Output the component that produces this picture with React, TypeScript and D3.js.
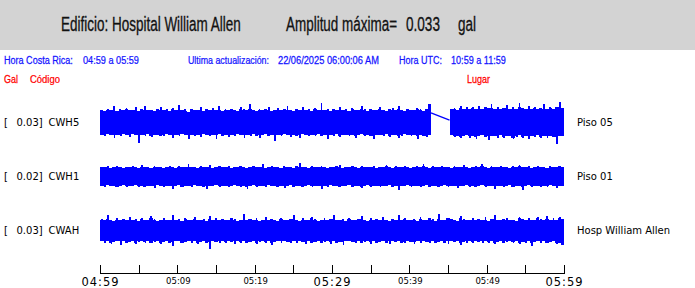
import React, { useLayoutEffect, useRef, useState } from 'react';
import * as d3 from 'd3';

// ---------- data ----------
const STATIONS = ['CWH5', 'CWH1', 'CWAH'];
const PLACES = ['Piso 05', 'Piso 01', 'Hosp William Allen'];
const PEAKS = ['0.03', '0.02', '0.03'];

const TICK_MINUTES = [0, 5, 10, 15, 20, 25, 30, 35, 40, 45, 50, 55, 60];
const LABEL_MINUTES = [0, 10, 20, 30, 40, 50, 60];
const LABEL_TEXTS = ['04:59', '05:09', '05:19', '05:29', '05:39', '05:49', '05:59'];
const LABEL_BIG = [true, false, false, true, false, false, true];

const SAMPLE_MIN = 0.4; // one envelope sample every 24 s

// envelopes in mgal (upper = positive peak, lower = negative peak magnitude); null = no data
const N = null;
const CWH5_UP = [
  21,19,23,20,27,19,22,20,24,21, 20,25,19,22,28,20,21,19,23,26,
  20,22,19,24,21,29,20,22,18,23, 21,20,26,19,22,21,24,20,27,19,
  22,20,23,21,19,25,22,20,30,21, 19,23,20,22,26,19,21,24,20,22,
  28,20,19,23,21,25,20,22,19,24, 21,32,20,22,19,23,21,26,20,22,
  19,24,21,20,27,22,19,23,21,20, 25,21,19,22,24,20,28,21,19,23,
  21,20,24,22,19,23,30,N,N,N, N,N,N,22,24,21,27,23,25,22,
  26,23,28,22,25,24,31,23,26,22, 24,29,23,25,22,33,24,23,27,22,
  25,23,24,30,22,26,23,25,34,24,
];
const CWH5_DOWN = [
  20,22,19,21,26,20,23,19,21,24, 19,21,33,20,22,19,24,21,20,22,
  23,19,21,25,20,22,19,21,27,20, 22,20,24,19,21,23,20,28,19,22,
  21,24,20,22,19,21,26,20,23,19, 22,25,20,19,23,21,30,20,22,19,
  21,24,20,22,26,19,21,23,20,22, 19,23,21,27,20,22,19,24,21,20,
  22,20,25,21,19,23,20,22,28,21, 20,22,19,24,21,20,26,22,19,21,
  23,20,27,21,22,24,21,N,N,N, N,N,N,21,24,22,26,23,21,25,
  22,27,23,21,24,29,22,23,25,21, 26,23,22,28,24,21,25,23,27,22,
  24,21,26,23,25,22,24,35,23,22,
];
const CWH5_GAP_EDGES = [16, 4];

const CWH1_UP = [
  16,15,17,14,16,18,15,14,16,15, 17,15,14,19,15,16,14,17,15,16,
  14,16,18,15,14,17,15,16,21,15, 16,14,17,15,16,19,14,15,17,16,
  15,17,14,16,15,18,16,14,15,17, 16,15,20,14,16,17,15,16,14,18,
  15,16,14,17,22,15,16,14,17,15, 16,18,15,14,16,15,17,19,14,16,
  15,17,16,14,18,15,16,15,17,14, 16,15,19,16,14,17,15,16,18,15,
  14,16,17,15,21,16,14,17,15,16, 18,15,16,14,17,15,16,19,15,14,
  16,17,15,20,16,14,17,15,16,18, 15,16,14,17,15,19,16,15,17,14,
  16,18,15,16,14,17,15,16,18,16,
];
const CWH1_DOWN = [
  15,17,14,16,15,18,16,14,17,15, 16,14,18,15,17,16,15,19,14,16,
  17,15,16,21,15,14,17,16,15,18, 14,16,15,17,20,15,16,14,17,15,
  16,18,15,14,16,17,15,21,16,14, 17,15,16,18,14,16,15,17,16,19,
  15,14,17,16,15,18,16,14,17,15, 16,20,15,17,14,16,15,18,16,15,
  14,17,16,15,19,16,14,17,15,16, 18,15,16,14,17,16,22,15,16,14,
  17,15,16,18,15,14,17,16,15,18, 16,14,17,15,16,19,15,16,14,17,
  15,18,16,14,17,15,16,20,15,16, 17,15,14,18,16,15,23,16,14,17,
  15,16,18,15,17,14,16,19,15,16,
];

const CWAH_UP = [
  19,17,26,18,16,20,17,19,18,23, 17,19,16,21,18,17,24,19,16,18,
  20,17,18,25,17,19,16,20,18,17, 22,18,17,19,16,24,18,20,17,19,
  18,17,21,19,16,18,27,17,19,18, 20,16,18,23,17,19,18,16,21,18,
  17,19,25,18,16,20,17,18,22,19, 16,18,20,17,19,26,18,17,19,16,
  21,18,17,19,24,18,16,20,17,19, 18,22,17,16,19,18,25,17,20,18,
  17,19,16,23,18,17,20,19,16,28, 18,17,21,19,18,16,24,19,17,18,
  20,17,19,18,22,16,19,25,18,17, 19,21,17,18,16,23,19,18,20,17,
  18,22,19,17,24,18,20,17,23,19,
];
const CWAH_DOWN = [
  18,20,17,22,19,18,24,17,20,19, 18,23,19,17,20,18,21,19,17,22,
  19,18,20,25,18,17,21,19,18,20, 17,22,19,18,20,30,18,19,21,17,
  20,18,19,23,17,20,18,21,19,18, 22,19,17,20,18,24,19,18,20,17,
  19,21,18,20,17,19,23,18,20,19, 18,20,19,17,22,18,20,19,24,18,
  17,19,21,18,20,19,17,23,18,20, 19,18,20,22,17,19,18,21,20,18,
  19,23,18,20,17,19,21,18,20,19, 18,20,22,17,19,18,24,19,20,17,
  20,18,19,21,17,20,18,23,19,18, 21,19,17,20,18,22,19,20,18,25,
  19,18,20,17,21,19,18,22,20,24,
];

const UPS = [CWH5_UP, CWH1_UP, CWAH_UP];
const DOWNS = [CWH5_DOWN, CWH1_DOWN, CWAH_DOWN];

// ---------- layout ----------
const W = 695;
const H = 288;
const TRACE_COLOR = '#0000ff';
const INFO_BLUE = '#1414ff';
const RED = '#ff0000';
const HEADER_FONT = '"Liberation Sans", Arial, sans-serif';
const LABEL_FONT = '"DejaVu Sans", sans-serif';

// text squeezed horizontally to a given width (condensed look of the original)
function CText(props: { x: number; y: number; w: number; size: number; fill: string; sw?: number; children: string }) {
  const ref = useRef<SVGTextElement>(null);
  const [sx, setSx] = useState(1);
  useLayoutEffect(() => {
    if (ref.current) {
      const nat = ref.current.getComputedTextLength();
      if (nat > 0) setSx(props.w / nat);
    }
  }, [props.w, props.children, props.size]);
  return (
    <text
      ref={ref}
      transform={`translate(${props.x},${props.y}) scale(${sx},1)`}
      fontFamily={HEADER_FONT}
      fontSize={props.size}
      fill={props.fill}
      stroke={props.fill}
      strokeWidth={props.sw ?? 0.25}
    >
      {props.children}
    </text>
  );
}

const val = (a: (number | null)[], i: number) => {
  const v = a[i];
  return v == null ? Infinity : v;
};

export default function App() {
  const x = d3.scaleLinear().domain([0, 60]).range([100, 564]);
  const center = d3.scalePoint<string>().domain(STATIONS).range([122.5, 230.5]);

  const tracePaths = STATIONS.map((st, k) => {
    const c = center(st) as number;
    const y = d3.scaleLinear().domain([-33, 33]).range([c + 20, c - 20]);
    const up = UPS[k];
    const dn = DOWNS[k];
    const p = d3.path();
    for (let i = 0; i < up.length; i++) {
      const u = up[i];
      const d = dn[i];
      if (u == null || d == null) continue;
      const x0 = x(i * SAMPLE_MIN);
      const x1 = x((i + 1) * SAMPLE_MIN);
      // body of the band: the lower of this peak and the next one
      const cu = Math.min(u, val(up, i + 1) + 1);
      const cd = Math.min(d, val(dn, i + 1) + 1);
      p.rect(x0, y(cu), x1 - x0, y(-cd) - y(cu));
      // the peak itself as a spike
      const xs = x0 + (x1 - x0) * 0.3;
      p.rect(xs, y(u), 1.8, y(cu) - y(u) + 1);
      p.rect(xs + 0.3, y(-cd) - 1, 1.8, y(-d) - y(-cd) + 1);
    }
    return p.toString();
  });

  // gap connector in CWH5
  const c5 = center('CWH5') as number;
  const y5 = d3.scaleLinear().domain([-33, 33]).range([c5 + 20, c5 - 20]);
  let gapStart = -1;
  let gapEnd = -1;
  CWH5_UP.forEach((v, i) => {
    if (v == null) {
      if (gapStart < 0) gapStart = i;
      gapEnd = i;
    }
  });
  const gapLine = d3.line<[number, number]>()([
    [x(gapStart * SAMPLE_MIN), y5(CWH5_GAP_EDGES[0])],
    [x((gapEnd + 1) * SAMPLE_MIN), y5(CWH5_GAP_EDGES[1])],
  ]);

  const axisY = 273.5;

  return (
    <svg
      width={W}
      height={H}
      style={{ position: 'absolute', left: 0, top: 0, background: '#fff' }}
    >
      <rect x={0} y={0} width={W} height={H} fill="#ffffff" />
      <rect x={0} y={0} width={W} height={50} fill="#d3d3d3" />

      <CText x={61} y={31} w={180} size={19.5} fill="#111" sw={0.3}>Edificio: Hospital William Allen</CText>
      <CText x={286} y={31} w={111} size={19.5} fill="#111" sw={0.3}>Amplitud máxima=</CText>
      <CText x={406} y={31} w={34} size={19.5} fill="#111" sw={0.3}>0.033</CText>
      <CText x={458} y={31} w={18} size={19.5} fill="#111" sw={0.3}>gal</CText>

      <CText x={4} y={64} w={69} size={11} fill={INFO_BLUE}>Hora Costa Rica:</CText>
      <CText x={83} y={64} w={56} size={11} fill={INFO_BLUE}>04:59 a 05:59</CText>
      <CText x={188} y={64} w={81} size={11} fill={INFO_BLUE}>Ultima actualización:</CText>
      <CText x={278} y={64} w={101} size={11} fill={INFO_BLUE}>22/06/2025 06:00:06 AM</CText>
      <CText x={399} y={64} w={43} size={11} fill={INFO_BLUE}>Hora UTC:</CText>
      <CText x={451} y={64} w={55} size={11} fill={INFO_BLUE}>10:59 a 11:59</CText>

      <CText x={4} y={83} w={14} size={11.2} fill={RED}>Gal</CText>
      <CText x={30} y={83} w={30} size={11.2} fill={RED}>Código</CText>
      <CText x={467} y={83} w={23} size={11.2} fill={RED}>Lugar</CText>

      {STATIONS.map((st, k) => {
        const c = center(st) as number;
        return (
          <g key={st}>
            <path d={tracePaths[k]} fill={TRACE_COLOR} shapeRendering="crispEdges" />
            <g fontFamily={LABEL_FONT} fontSize={10} fill="#000">
              <text x={4} y={c + 3.5}>[</text>
              <text x={16.5} y={c + 3.5}>{PEAKS[k] + ']'}</text>
              <text x={48.5} y={c + 3.5}>{st}</text>
              <text x={577} y={c + 3.5}>{PLACES[k]}</text>
            </g>
          </g>
        );
      })}
      {gapLine && <path d={gapLine} stroke={TRACE_COLOR} strokeWidth={1.3} fill="none" />}

      <g stroke="#000" strokeWidth={1} shapeRendering="crispEdges">
        <line x1={x(0)} x2={x(60)} y1={axisY} y2={axisY} />
        {TICK_MINUTES.map((m) => (
          <line key={m} x1={Math.round(x(m)) + 0.5} x2={Math.round(x(m)) + 0.5} y1={265} y2={axisY} />
        ))}
      </g>
      <g fontFamily={LABEL_FONT} fill="#000" textAnchor="middle">
        {LABEL_MINUTES.map((m, i) =>
          LABEL_BIG[i] ? (
            <text key={m} x={x(m)} y={285.5} fontSize={11.5} textLength={37} lengthAdjust="spacing">
              {LABEL_TEXTS[i]}
            </text>
          ) : (
            <text key={m} x={x(m) + 1} y={283.5} fontSize={8.5}>
              {LABEL_TEXTS[i]}
            </text>
          )
        )}
      </g>
    </svg>
  );
}
